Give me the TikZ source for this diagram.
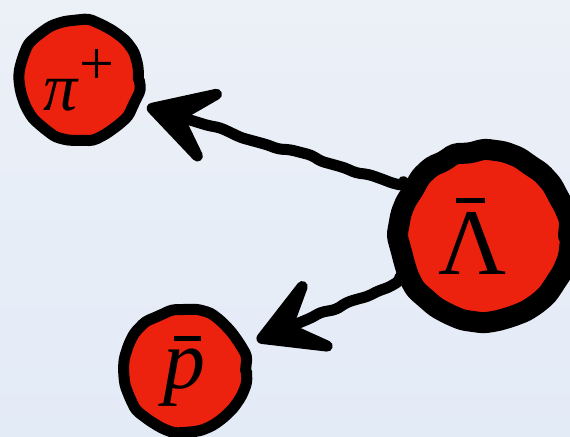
\documentclass[tikz,border=0pt]{standalone}
\usepackage{fontspec}
\setmainfont{Liberation Serif}
\usetikzlibrary{arrows.meta,decorations.pathmorphing}

\definecolor{bgtop}{RGB}{236,240,247}
\definecolor{bgbottom}{RGB}{227,235,247}
\definecolor{partred}{RGB}{236,34,14}

% short bar over a letter: shift, raise, width
\newcommand{\ovbar}[3]{\makebox[0pt][l]{\hspace*{#1}\rule[#2]{#3}{0.06em}}}

\begin{document}
\begin{tikzpicture}[x=0.5pt,y=0.5pt,
  particle/.style={circle,fill=partred,draw=black,inner sep=0pt,
    line cap=round,line join=round,
    decorate,decoration={random steps,segment length=7pt,amplitude=0.8pt},
    rounded corners=2pt},
  decay/.style={line width=5.5pt,line cap=round,line join=round,
    -{Stealth[length=48pt,width=54pt,inset=25pt,round]},
    decorate,decoration={random steps,segment length=6pt,amplitude=1.1pt,
      post=lineto,post length=36pt},rounded corners=2pt}]

\pgfmathsetseed{7}
\useasboundingbox (0,0) rectangle (570,437);
\shade[top color=bgtop,bottom color=bgbottom] (0,0) rectangle (570,437);

\node[particle,minimum size=59.5pt,line width=5.5pt,
  font=\fontsize{34}{34}\selectfont] (pi) at (79,357)
  {\textit{π}\raisebox{13pt}{\fontsize{31}{31}\selectfont +}};
\node[particle,minimum size=84.5pt,line width=10.5pt,
  font=\fontsize{47}{47}\selectfont] (lam) at (484,201)
  {\ovbar{0.19em}{0.755em}{0.31em}Λ\hspace*{0.25em}};
\node[particle,minimum size=60.5pt,line width=5.5pt,
  font=\fontsize{42}{42}\selectfont] (pbar) at (185,66) {\ovbar{0.12em}{0.56em}{0.32em}\textit{p}};

\draw[decay,shorten >=4pt] (lam.148) -- (pi.-22);
\draw[decay,shorten >=6pt] (lam.208) -- (pbar.23);

\end{tikzpicture}
\end{document}
